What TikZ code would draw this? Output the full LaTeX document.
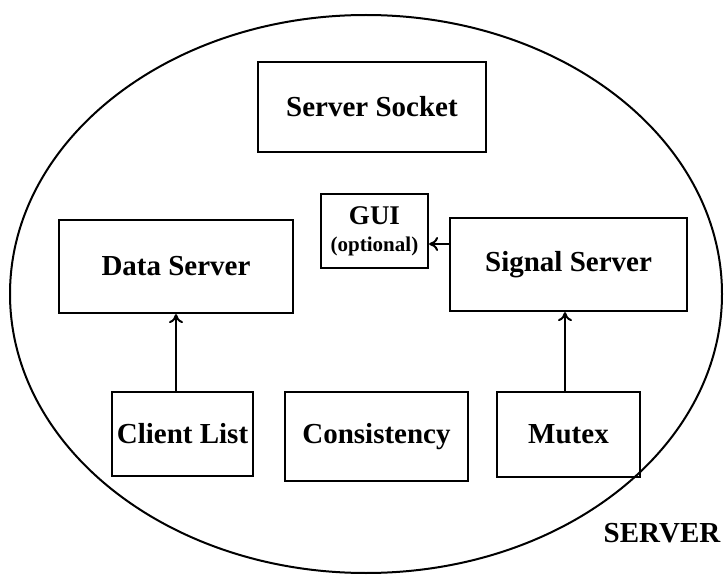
\documentclass[tikz,border=0pt]{standalone}
\usepackage{fontspec}
\setmainfont{Liberation Serif}
\usetikzlibrary{arrows.meta}
\begin{document}
\begin{tikzpicture}[x=1pt,y=-1pt,
  box/.style={draw=black,line width=2.2pt,inner sep=0pt,align=center,
    font=\fontsize{29}{31}\selectfont\bfseries},
  arr/.style={draw=black,line width=2pt,-{To[length=9pt,width=14pt,line width=2pt]}}]
\useasboundingbox (0,0) rectangle (724,575);
\draw[line width=2pt] (366,294) ellipse [x radius=356pt, y radius=279pt];
\node[box,minimum width=228pt,minimum height=90pt] (sock) at (372,107) {Server Socket};
\node[box,minimum width=107pt,minimum height=74pt] (gui) at (374.5,231)
  {{\fontsize{27}{27}\selectfont GUI}\\[-4pt]{\fontsize{21}{22}\selectfont (optional)}};
\node[box,minimum width=234pt,minimum height=93pt] (ds) at (176,266.5) {Data Server};
\node[box,minimum width=237pt,minimum height=93pt] (sig) at (568.5,264.5) {Signal Server};
\node[box,minimum width=141pt,minimum height=84pt] (cl) at (182.5,434) {Client List};
\node[box,minimum width=183pt,minimum height=89pt] (con) at (376.5,436.5) {Consistency};
\node[box,minimum width=143pt,minimum height=85pt] (mu) at (568.5,434.5) {Mutex};
\node[font=\fontsize{29}{31}\selectfont\bfseries] (srv) at (662,533) {SERVER};
\draw[arr] (cl.north -| ds.south) -- (ds.south);
\draw[arr] (mu.north -| 565,0) -- (sig.south -| 565,0);
\draw[arr] (sig.west |- 0,244) -- (gui.east |- 0,244);
\end{tikzpicture}
\end{document}
